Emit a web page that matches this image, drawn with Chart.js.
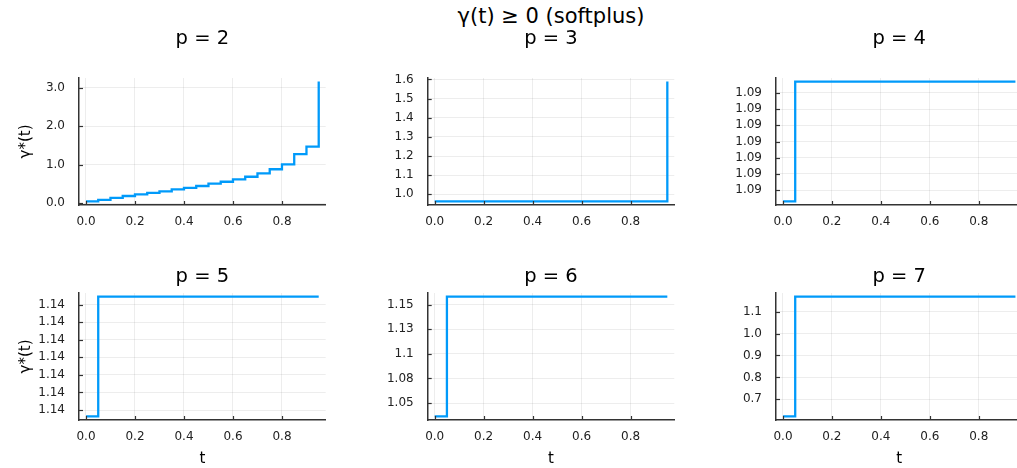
<!DOCTYPE html>
<html><head><meta charset="utf-8">
<script src="https://cdn.jsdelivr.net/npm/chart.js@4"></script>
<style>
html,body{margin:0;padding:0;background:#fff;overflow:hidden;width:1017px;height:468px;}
.pan{position:absolute;}
#title{position:absolute;left:351px;width:400px;top:4px;text-align:center;font-family:"DejaVu Sans";font-size:21px;line-height:24px;color:#000;white-space:nowrap;}
</style></head><body>
<div id="title">γ(t) ≥ 0 (softplus)</div>
<div class="pan" style="left:0;top:0;width:340px;height:240px"><canvas id="c1"></canvas></div>
<div class="pan" style="left:340px;top:0;width:340px;height:240px"><canvas id="c2"></canvas></div>
<div class="pan" style="left:690px;top:0;width:340px;height:240px"><canvas id="c3"></canvas></div>
<div class="pan" style="left:0;top:235px;width:340px;height:233px"><canvas id="c4"></canvas></div>
<div class="pan" style="left:340px;top:235px;width:340px;height:233px"><canvas id="c5"></canvas></div>
<div class="pan" style="left:690px;top:235px;width:340px;height:233px"><canvas id="c6"></canvas></div>
<script>
// ---- data ----
const tValues = [0, 0.05, 0.1, 0.15, 0.2, 0.25, 0.3, 0.35, 0.4, 0.45, 0.5, 0.55, 0.6, 0.65, 0.7, 0.75, 0.8, 0.85, 0.9, 0.95];
const gammaP2 = [0.05, 0.09, 0.14, 0.19, 0.23, 0.27, 0.31, 0.36, 0.40, 0.45, 0.51, 0.56, 0.62, 0.69, 0.78, 0.885, 1.01, 1.275, 1.47, 3.16];
const gammaP3 = [0.963, 0.963, 0.963, 0.963, 0.963, 0.963, 0.963, 0.963, 0.963, 0.963, 0.963, 0.963, 0.963, 0.963, 0.963, 0.963, 0.963, 0.963, 0.963, 1.589];
const gammaP4 = [1.09213, 1.09287, 1.09287, 1.09287, 1.09287, 1.09287, 1.09287, 1.09287, 1.09287, 1.09287, 1.09287, 1.09287, 1.09287, 1.09287, 1.09287, 1.09287, 1.09287, 1.09287, 1.09287, 1.09287];
const gammaP5 = [1.140164, 1.140845, 1.140845, 1.140845, 1.140845, 1.140845, 1.140845, 1.140845, 1.140845, 1.140845, 1.140845, 1.140845, 1.140845, 1.140845, 1.140845, 1.140845, 1.140845, 1.140845, 1.140845, 1.140845];
const gammaP6 = [1.0364, 1.1582, 1.1582, 1.1582, 1.1582, 1.1582, 1.1582, 1.1582, 1.1582, 1.1582, 1.1582, 1.1582, 1.1582, 1.1582, 1.1582, 1.1582, 1.1582, 1.1582, 1.1582, 1.1582];
const gammaP7 = [0.622, 1.1687, 1.1687, 1.1687, 1.1687, 1.1687, 1.1687, 1.1687, 1.1687, 1.1687, 1.1687, 1.1687, 1.1687, 1.1687, 1.1687, 1.1687, 1.1687, 1.1687, 1.1687, 1.1687];

const xTickValues = [0, 0.2, 0.4, 0.6, 0.8];
const xTickLabels = ['0.0', '0.2', '0.4', '0.6', '0.8'];
const yTickValuesP2 = [0, 1, 2, 3];
const yTickLabelsP2 = ['0.0', '1.0', '2.0', '3.0'];
const yTickValuesP3 = [1.0, 1.1, 1.2, 1.3, 1.4, 1.5, 1.6];
const yTickLabelsP3 = ['1.0', '1.1', '1.2', '1.3', '1.4', '1.5', '1.6'];
const yTickValuesP4 = [1.0922, 1.0923, 1.0924, 1.0925, 1.0926, 1.0927, 1.0928];
const yTickLabelsP4 = ['1.09', '1.09', '1.09', '1.09', '1.09', '1.09', '1.09'];
const yTickValuesP5 = [1.1402, 1.1403, 1.1404, 1.1405, 1.1406, 1.1407, 1.1408];
const yTickLabelsP5 = ['1.14', '1.14', '1.14', '1.14', '1.14', '1.14', '1.14'];
const yTickValuesP6 = [1.05, 1.075, 1.1, 1.125, 1.15];
const yTickLabelsP6 = ['1.05', '1.08', '1.1', '1.13', '1.15'];
const yTickValuesP7 = [0.7, 0.8, 0.9, 1.0, 1.1];
const yTickLabelsP7 = ['0.7', '0.8', '0.9', '1.0', '1.1'];
const panelTitles = ['p = 2', 'p = 3', 'p = 4', 'p = 5', 'p = 6', 'p = 7'];
const yAxisLabel = 'γ*(t)';
const xAxisLabel = 't';

// ---- drawing ----
const FONT = 'DejaVu Sans';
const AXIS = '#333333';
const innerTicks = {
  id: 'innerTicks',
  afterDatasetsDraw(chart) {
    const ctx = chart.ctx, a = chart.chartArea;
    ctx.save();
    ctx.strokeStyle = AXIS; ctx.lineWidth = 1.2;
    const xs = chart.scales.x, ys = chart.scales.y;
    xs.ticks.forEach(t => { const p = Math.round(xs.getPixelForValue(t.value)) + 0.5;
      ctx.beginPath(); ctx.moveTo(p, a.bottom); ctx.lineTo(p, a.bottom - 4); ctx.stroke(); });
    ys.ticks.forEach(t => { const p = Math.round(ys.getPixelForValue(t.value)) + 0.5;
      ctx.beginPath(); ctx.moveTo(a.left, p); ctx.lineTo(a.left + 4, p); ctx.stroke(); });
    ctx.restore();
  }
};

function range(vals) {
  const lo = Math.min(...vals), hi = Math.max(...vals), pad = 0.03 * (hi - lo);
  return [lo - pad, hi + pad];
}

function makePanel(id, title, yData, yTV, yTL, g) {
  const [xmin, xmax] = range(tValues);
  const [ymin, ymax] = range(yData);
  const pts = tValues.map((t, i) => ({x: t, y: yData[i]}));
  new Chart(document.getElementById(id), {
    type: 'line',
    data: { datasets: [{ data: pts, borderColor: '#009AFA', borderWidth: 2.3, pointRadius: 0, stepped: 'before', fill: false }] },
    options: {
      responsive: true, maintainAspectRatio: false, animation: false,
      layout: { padding: { left: 0, right: g.padRight, top: 0, bottom: 0 } },
      plugins: {
        legend: { display: false }, tooltip: { enabled: false },
        title: { display: true, text: title, fullSize: false, color: '#000',
          font: { family: FONT, size: 19.5, weight: 'normal' }, padding: { top: g.tTop, bottom: g.tBottom } }
      },
      scales: {
        x: {
          type: 'linear', min: xmin, max: xmax,
          afterBuildTicks: s => { s.ticks = xTickValues.map(v => ({value: v})); },
          afterFit: s => { s.height = g.xH; },
          ticks: { callback: (v, i) => xTickLabels[i], color: '#222', font: { family: FONT, size: 12 }, padding: 9.5, maxRotation: 0, autoSkip: false },
          grid: { color: 'rgba(0,0,0,0.07)', lineWidth: 1, drawTicks: false },
          border: { display: true, color: AXIS, width: 1.5 },
          title: { display: g.xlab, text: xAxisLabel, color: '#000', font: { family: FONT, size: 15 }, padding: { top: 0, bottom: 0 } }
        },
        y: {
          type: 'linear', min: ymin, max: ymax,
          afterBuildTicks: s => { s.ticks = yTV.map(v => ({value: v})); },
          afterFit: s => { s.width = g.yW; },
          ticks: { callback: (v, i) => yTL[i], color: '#222', font: { family: FONT, size: 12 }, padding: 14, autoSkip: false },
          grid: { color: 'rgba(0,0,0,0.07)', lineWidth: 1, drawTicks: false },
          border: { display: true, color: AXIS, width: 1.5 },
          title: { display: g.ylab, text: yAxisLabel, color: '#000', font: { family: FONT, size: 15 }, padding: { top: 17, bottom: 0 } }
        }
      }
    },
    plugins: [innerTicks]
  });
}

const top1 = { tTop: 27.3, tBottom: 27.3, xH: 35 };
const bot1 = { tTop: 30.3, tBottom: 4.3, xH: 48 };
makePanel('c1', panelTitles[0], gammaP2, yTickValuesP2, yTickLabelsP2, {...top1, yW: 79, padRight: 14.3, ylab: true, xlab: false});
makePanel('c2', panelTitles[1], gammaP3, yTickValuesP3, yTickLabelsP3, {...top1, yW: 87.7, padRight: 5.7, ylab: false, xlab: false});
makePanel('c3', panelTitles[2], gammaP4, yTickValuesP4, yTickLabelsP4, {...top1, yW: 86, padRight: 7.6, ylab: false, xlab: false});
makePanel('c4', panelTitles[3], gammaP5, yTickValuesP5, yTickLabelsP5, {...bot1, yW: 79, padRight: 14.3, ylab: true, xlab: true});
makePanel('c5', panelTitles[4], gammaP6, yTickValuesP6, yTickLabelsP6, {...bot1, yW: 87.7, padRight: 5.7, ylab: false, xlab: true});
makePanel('c6', panelTitles[5], gammaP7, yTickValuesP7, yTickLabelsP7, {...bot1, yW: 86, padRight: 7.6, ylab: false, xlab: true});
</script>
</body></html>
